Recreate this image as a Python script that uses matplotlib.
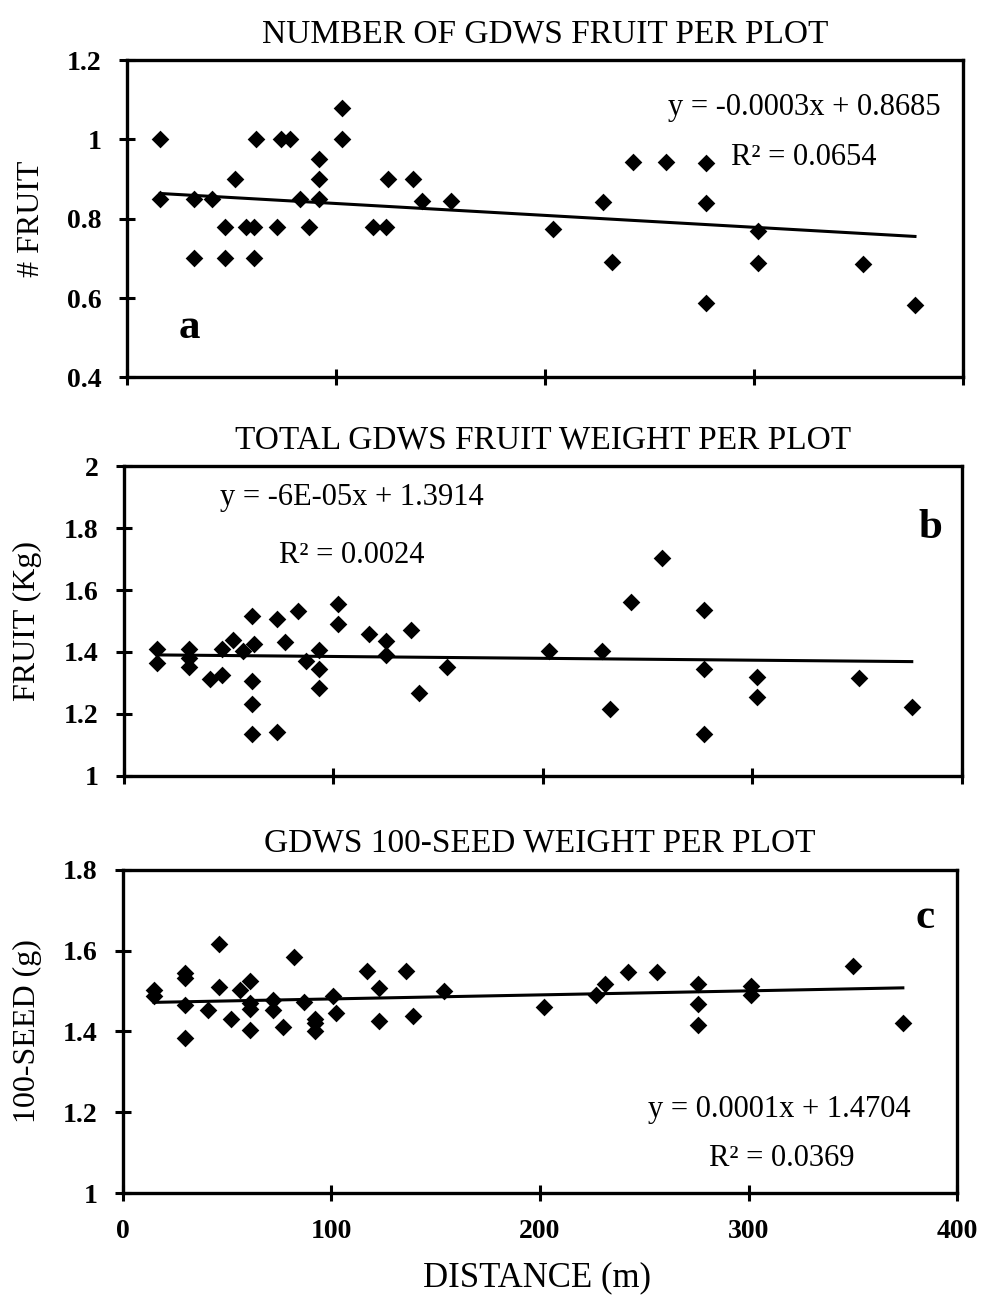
"""
GDWS 果实数据：三个面板的散点图 + 线性趋势线
a: 每小区果实数量
b: 每小区果实总重
c: 百粒重
"""
import numpy as np
import matplotlib.pyplot as plt
from matplotlib.ticker import FuncFormatter

plt.rcParams['font.family'] = ['Liberation Serif', 'DejaVu Serif']

# 面板 a：果实数量
dist_a = [16, 16, 32, 32, 41, 47, 47, 52, 57, 61, 61, 62, 72, 74, 78, 83, 87, 92, 92, 92,
          103, 103, 118, 124, 125, 137, 141, 155, 204, 228, 232, 242, 258, 277, 277, 277,
          302, 302, 352, 377]
fruit_a = [1.0, 0.85, 0.85, 0.70, 0.85, 0.78, 0.70, 0.90, 0.78, 0.78, 0.70, 1.0, 0.78, 1.0,
           1.0, 0.85, 0.78, 0.95, 0.90, 0.85, 1.0, 1.08, 0.78, 0.78, 0.90, 0.90, 0.845, 0.845,
           0.775, 0.843, 0.69, 0.942, 0.942, 0.94, 0.839, 0.587, 0.77, 0.688, 0.686, 0.583]
fit_a = (-0.0003, 0.8685)

# 面板 b：果实重量
dist_b = [16, 16, 31, 31, 31, 41, 47, 47, 52, 57, 62, 61, 61, 61, 61, 73, 73, 77, 83, 87,
          93, 93, 93, 102, 102, 117, 125, 125, 137, 141, 154, 203, 228, 232, 242, 257, 277,
          277, 277, 302, 302, 351, 376]
weight_b = [1.411, 1.363, 1.411, 1.379, 1.35, 1.314, 1.325, 1.411, 1.44, 1.403, 1.427, 1.515,
            1.306, 1.233, 1.135, 1.142, 1.508, 1.432, 1.532, 1.371, 1.405, 1.346, 1.282, 1.556,
            1.489, 1.457, 1.435, 1.389, 1.472, 1.268, 1.35, 1.402, 1.402, 1.217, 1.563, 1.703,
            1.535, 1.346, 1.135, 1.319, 1.255, 1.317, 1.221]
fit_b = (-6e-05, 1.3914)

# 面板 c：百粒重
dist_c = [15, 15, 30, 30, 30, 30, 46, 46, 41, 52, 56, 61, 61, 61, 61, 72, 72, 77, 82, 87,
          92, 92, 92, 101, 102, 117, 123, 123, 136, 139, 154, 202, 227, 231, 242, 256, 276,
          276, 276, 301, 301, 350, 374]
seed_c = [1.503, 1.487, 1.545, 1.532, 1.466, 1.384, 1.617, 1.511, 1.452, 1.431, 1.503, 1.524,
          1.47, 1.455, 1.404, 1.478, 1.452, 1.412, 1.584, 1.474, 1.431, 1.42, 1.40, 1.487,
          1.446, 1.549, 1.507, 1.425, 1.549, 1.437, 1.501, 1.46, 1.491, 1.517, 1.547, 1.547,
          1.517, 1.469, 1.417, 1.513, 1.491, 1.563, 1.422]
fit_c = (0.0001, 1.4704)

fig = plt.figure(figsize=(9.98, 13.06), dpi=100)

panels = [
    # 数据, 位置, y范围, 标题, y轴名称, 方程文字, 方程位置, 字母, 字母位置
    (dist_a, fruit_a, fit_a, [0.127, 0.711, 0.838, 0.243], (0.4, 1.2),
     'NUMBER OF GDWS FRUIT PER PLOT', '# FRUIT',
     'y = -0.0003x + 0.8685', 'R² = 0.0654', (0.81, 0.849), (0.81, 0.694), 'a', (0.075, 0.155)),
    (dist_b, weight_b, fit_b, [0.124, 0.406, 0.840, 0.237], (1.0, 2.0),
     'TOTAL GDWS FRUIT WEIGHT PER PLOT', 'FRUIT (Kg)',
     'y = -6E-05x + 1.3914', 'R² = 0.0024', (0.272, 0.90), (0.272, 0.713), 'b', (0.962, 0.80)),
    (dist_c, seed_c, fit_c, [0.123, 0.0865, 0.836, 0.2475], (1.0, 1.8),
     'GDWS 100-SEED WEIGHT PER PLOT', '100-SEED (g)',
     'y = 0.0001x + 1.4704', 'R² = 0.0369', (0.787, 0.257), (0.79, 0.108), 'c', (0.962, 0.851)),
]

for i, (X, Y, fit, pos, ylim, title, ylabel, eq, r2, eq_pos, r2_pos, letter, letter_pos) in enumerate(panels):
    ax = fig.add_axes(pos)
    ax.scatter(X, Y, marker='D', s=9 ** 2, color='black', zorder=3, linewidths=0)

    # 趋势线
    xl = np.array([min(X), max(X)])
    ax.plot(xl, fit[0] * xl + fit[1], color='black', linewidth=2.2, zorder=2)

    ax.set_xlim(0, 400)
    ax.set_ylim(*ylim)
    ax.set_xticks([0, 100, 200, 300, 400])
    ax.set_yticks(np.arange(ylim[0], ylim[1] + 0.01, 0.2))
    ax.yaxis.set_major_formatter(FuncFormatter(lambda v, p: '%g' % round(v, 2)))

    for s in ax.spines.values():
        s.set_linewidth(2.4)
    ax.tick_params(direction='inout', length=12, width=2.2, labelsize=20, pad=12)
    for lab in ax.get_yticklabels() + ax.get_xticklabels():
        lab.set_fontweight('bold')
    if i < 2:
        ax.tick_params(axis='x', labelbottom=False)
    else:
        ax.tick_params(axis='x', pad=13)

    ax.set_title(title, fontsize=24, pad=13)
    ax.set_ylabel(ylabel, fontsize=23)
    ax.yaxis.set_label_coords(-0.097, 0.5)

    ax.text(eq_pos[0], eq_pos[1], eq, transform=ax.transAxes, ha='center', va='center', fontsize=22)
    ax.text(r2_pos[0], r2_pos[1], r2, transform=ax.transAxes, ha='center', va='center', fontsize=22)
    ax.text(letter_pos[0], letter_pos[1], letter, transform=ax.transAxes, ha='center', va='center',
            fontsize=31, fontweight='bold')

    if i == 2:
        ax.set_xlabel('DISTANCE (m)', fontsize=25)
        ax.xaxis.set_label_coords(0.497, -0.212)

plt.savefig('out.png', dpi=100)
